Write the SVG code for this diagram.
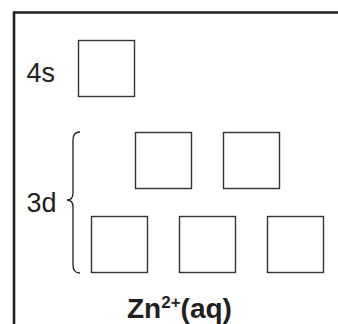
<svg xmlns="http://www.w3.org/2000/svg" width="338" height="324" viewBox="0 0 338 324">
<style>
.box{fill:#fff;stroke:#333;stroke-width:1.4}
.lbl{font-family:"Liberation Sans",Arial,sans-serif;font-size:27px;fill:#231f20}
.ttl{font-family:"Liberation Sans",Arial,sans-serif;font-size:28px;font-weight:bold;fill:#231f20}
</style>
<rect width="338" height="324" fill="#fff"/>
<path d="M14,326 L14,12.5 L340,12.5" fill="none" stroke="#231f20" stroke-width="2.6"/>
<g id="label-4s"><text class="lbl" x="26.5" y="82">4s</text></g>
<g id="orbital-4s"><rect class="box" x="78.5" y="40.5" width="56" height="56"/></g>
<g id="label-3d"><text class="lbl" x="26.5" y="212">3d</text></g>
<g id="brace"><path d="M80,132 Q73,132 73,140 L73,193 Q73,200 67,200 Q73,200 73,207 L73,265 Q73,273 80,273" fill="none" stroke="#231f20" stroke-width="1.3"/></g>
<g id="orbital-3d-1"><rect class="box" x="135.5" y="132.5" width="56" height="56"/></g>
<g id="orbital-3d-2"><rect class="box" x="223.5" y="132.5" width="56" height="56"/></g>
<g id="orbital-3d-3"><rect class="box" x="91.5" y="216.5" width="56" height="56"/></g>
<g id="orbital-3d-4"><rect class="box" x="179.5" y="216.5" width="56" height="56"/></g>
<g id="orbital-3d-5"><rect class="box" x="267.5" y="216.5" width="56" height="56"/></g>
<g id="connectors"></g>
<g id="title"><text class="ttl" x="127" y="318">Zn<tspan font-size="17" dy="-10">2+</tspan><tspan dy="10">(aq)</tspan></text></g>
</svg>
